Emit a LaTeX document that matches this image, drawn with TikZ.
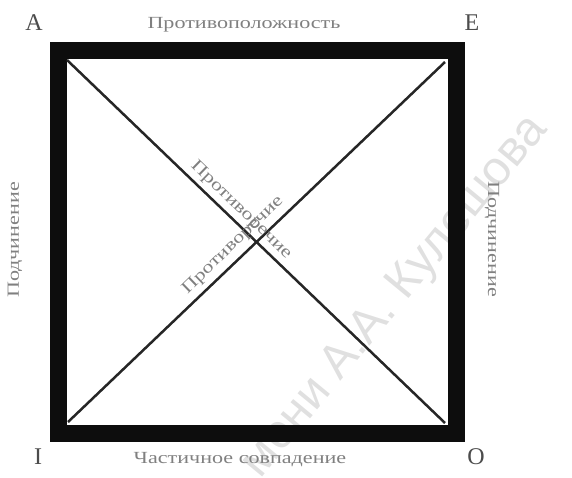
\documentclass[tikz,border=0pt]{standalone}
\usepackage{graphicx}
\usepackage{fontspec}
\setmainfont{Liberation Serif}
\newfontfamily\wmfont{Liberation Sans}
\usepackage{tikz}
\usetikzlibrary{positioning}

\newcommand{\sqlabel}[1]{\scalebox{1.3}[1]{#1}}

\begin{document}
\begin{tikzpicture}[x=1pt, y=-1pt,
    corner/.style={text=black!70, font=\fontsize{24}{24}\selectfont, inner sep=0pt},
    relation/.style={text=black!50, font=\fontsize{17}{17}\selectfont, inner sep=0pt},
    diag/.style={black!85, line width=2.5pt}]
        \useasboundingbox (0,0) rectangle (572,477);

        % Watermark
        \node[text=black!12, font=\wmfont\fontsize{48}{48}\selectfont, rotate=50.5, anchor=base west] (mark) at (258,482) {мени А.А. Кулешова};

        % Square
        \draw[line width=17pt, black!95] (58,50) rectangle (456.5,433.5);

        % Inner corners
        \coordinate (cA) at (67,60);
        \coordinate (cE) at (445,62);
        \coordinate (cI) at (68,422);
        \coordinate (cO) at (445,423);

        % Diagonals
        \draw[diag] (cA) -- (cO);
        \draw[diag] (cI) -- (cE);

        % Corner letters
        \node[corner] (A) at (34,23) {A};
        \node[corner] (E) at (472,23) {E};
        \node[corner] (I) at (38,457) {I};
        \node[corner] (O) at (476,457) {O};

        % Relations
        \node[relation] (contrary) at (244,25) {\sqlabel{Противоположность}};
        \node[relation] (subcontrary) at (240,460) {\sqlabel{Частичное совпадение}};
        \node[relation, rotate=90] (subleft) at (15,240) {\sqlabel{Подчинение}};
        \node[relation, rotate=-90] (subright) at (492,239) {\sqlabel{Подчинение}};
        \node[relation, rotate=-44] (contraAO) at (241,210) {\sqlabel{Противоречие}};
        \node[relation, rotate=44] (contraIE) at (233,245) {\sqlabel{Противоречие}};
    \end{tikzpicture}
\end{document}
